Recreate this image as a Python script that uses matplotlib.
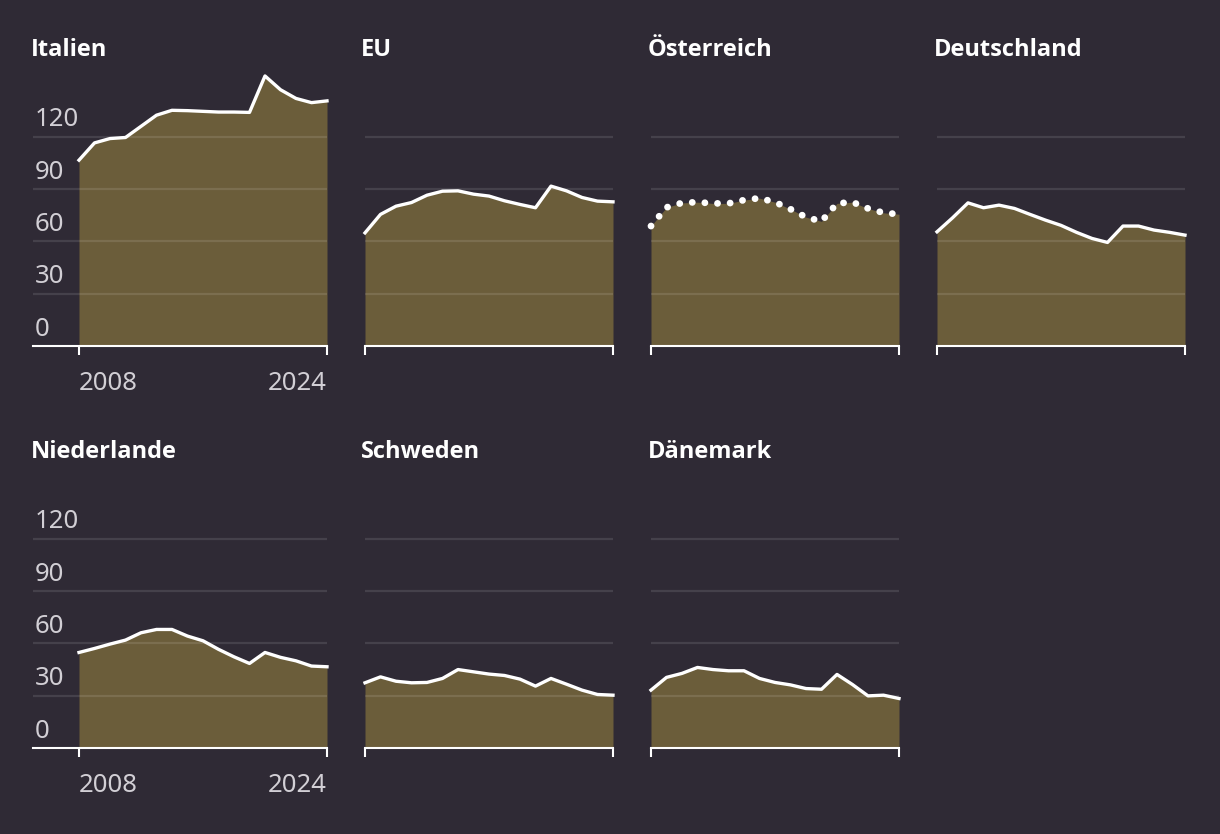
import matplotlib.pyplot as plt

years = list(range(2008, 2025))

italien = [106.6, 116.5, 119.0, 119.6, 126.0, 132.4, 135.2, 135.0, 134.6, 134.2,
           134.2, 134.0, 154.9, 147.0, 142.0, 139.6, 140.6]
eu = [64.9, 75.5, 80.2, 82.3, 86.5, 88.8, 89.0, 87.1, 86.0, 83.3,
      81.2, 79.3, 91.7, 89.0, 85.2, 83.1, 82.7]
oesterreich = [68.8, 79.5, 82.1, 82.5, 81.8, 81.8, 83.7, 84.8, 82.5, 78.5,
               73.9, 71.5, 81.8, 82.5, 78.9, 76.4, 75.6]
deutschland = [65.5, 73.5, 82.1, 79.3, 80.8, 78.9, 75.5, 72.2, 69.2, 65.2,
               61.7, 59.4, 68.8, 68.8, 66.5, 65.2, 63.6]
niederlande = [54.8, 57.1, 59.6, 61.9, 66.1, 68.0, 68.0, 64.2, 61.5, 56.6,
               52.3, 48.5, 54.8, 52.0, 50.0, 47.0, 46.6]
schweden = [37.4, 40.8, 38.3, 37.4, 37.6, 39.9, 45.0, 43.7, 42.4, 41.6,
            39.5, 35.5, 39.9, 36.6, 33.2, 30.7, 30.3]
daenemark = [33.2, 40.5, 42.8, 46.2, 45.0, 44.3, 44.3, 39.9, 37.6, 36.2,
             34.1, 33.7, 42.2, 36.4, 29.9, 30.3, 28.4]

panels = [
    ("Italien", italien, "solid"),
    ("EU", eu, "solid"),
    ("Österreich", oesterreich, "dotted"),
    ("Deutschland", deutschland, "solid"),
    ("Niederlande", niederlande, "solid"),
    ("Schweden", schweden, "solid"),
    ("Dänemark", daenemark, "solid"),
]
y_ticks = [0, 30, 60, 90, 120]

BG = "#2f2a35"
FILL = "#6b5d3a"
TEXT = "#d2cfd5"

plt.rcParams.update({
    "font.family": ["Noto Sans", "DejaVu Sans"],
    "font.size": 18.5,
})

W, H = 1220, 834
fig = plt.figure(figsize=(W / 100, H / 100), dpi=100, facecolor=BG)

col_left = [79, 365, 651, 937]     # pixel x of 2008
data_w = 248                         # pixels from 2008 to 2024
row_base = [346, 748]                # pixel y of the zero line
px_per_unit = 52.3 / 30
ymax = 160


def px_axes(left, bottom, width, height):
    return fig.add_axes([left / W, 1 - bottom / H, width / W, height / H])


for i, (name, vals, style) in enumerate(panels):
    row, col = divmod(i, 4)
    base = row_base[row]
    height = ymax * px_per_unit
    if col == 0:
        left = 33
        ax = px_axes(left, base, col_left[0] + data_w - left, height)
        pre = (col_left[0] - left) / (data_w / 16)
        ax.set_xlim(2008 - pre, 2024)
    else:
        ax = px_axes(col_left[col], base, data_w, height)
        ax.set_xlim(2008, 2024)
    ax.set_ylim(0, ymax)
    ax.set_facecolor("none")

    ax.fill_between(years, vals, 0, color=FILL, lw=0, zorder=1)
    for t in y_ticks[1:]:
        ax.axhline(t, color="white", alpha=0.11, lw=1.6, zorder=2)

    if style == "dotted":
        ax.plot(years, vals, color="white", lw=4.9, ls=(0, (0.01, 1.85)),
                dash_capstyle="round", solid_capstyle="round",
                zorder=3, clip_on=False)
    else:
        ax.plot(years, vals, color="white", lw=2.4, solid_joinstyle="round",
                zorder=3, clip_on=False)

    for s in ("top", "right", "left"):
        ax.spines[s].set_visible(False)
    ax.spines["bottom"].set_color("white")
    ax.spines["bottom"].set_linewidth(1.5)
    ax.set_yticks([])
    ax.set_xticks([2008, 2024])
    ax.tick_params(axis="x", length=6.5, width=1.5, color="white",
                   direction="out", labelbottom=False)

    if col == 0:
        for t in y_ticks:
            ax.annotate(str(t), xy=(0, t), xycoords=("axes fraction", "data"),
                        xytext=(1.5, 7.5), textcoords="offset points",
                        va="baseline", ha="left", color=TEXT)
        ax.annotate("2008", xy=(2008, 0), xycoords="data", xytext=(0, -32),
                    textcoords="offset points", ha="left", va="baseline",
                    color=TEXT)
        ax.annotate("2024", xy=(2024, 0), xycoords="data", xytext=(0, -32),
                    textcoords="offset points", ha="right", va="baseline",
                    color=TEXT)

    title_x = [31, 361, 648, 934][col]
    title_y = [56, 458][row]
    fig.text(title_x / W, 1 - title_y / H, name, color="white",
             family=["Open Sans", "DejaVu Sans"], fontsize=17,
             fontweight="bold", ha="left", va="baseline")

fig.savefig("out.png", dpi=100, facecolor=BG)
